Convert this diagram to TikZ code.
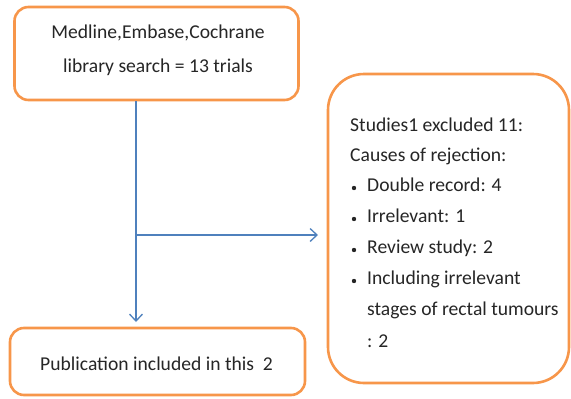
\documentclass[tikz,border=0pt]{standalone}
\usepackage{fontspec}
\setmainfont{Carlito}
\usetikzlibrary{arrows.meta}
\definecolor{boxorange}{HTML}{F7964A}
\definecolor{arrowblue}{HTML}{4F81BD}
\tikzset{
  box/.style={draw=boxorange, line width=2.6pt, rounded corners=14pt, fill=white, inner sep=0pt},
  conn/.style={draw=arrowblue, line width=1.3pt, -{Straight Barb[length=7pt,width=13pt,line width=1.3pt]}},
  txt/.style={font=\fontsize{19.6}{31}\selectfont, text=black!85, inner sep=0pt}
}
\begin{document}
\begin{tikzpicture}[x=1pt,y=-1pt]
\useasboundingbox (0,0) rectangle (571,399);
\node[box, minimum width=284pt, minimum height=93pt] (top) at (156.5,53.5) {};
\node[txt, align=center, font=\fontsize{19.6}{34}\selectfont] (toptext) at (158,50) {Medline,Embase,Cochrane\\library search = 13 trials};
\node[box, minimum width=295pt, minimum height=67pt] (bot) at (157.5,361.5) {};
\node[txt, anchor=west] (bottext) at (40,364) {Publication included in this\ \ 2};
\node[box, rounded corners=36pt, minimum width=241pt, minimum height=309pt] (right) at (448.5,228.5) {};
\node[txt, anchor=base west] (r1) at (350,131) {Studies1 excluded 11:};
\node[txt, anchor=base west] (r2) at (350,161) {Causes of rejection:};
\node[txt, anchor=base west] (r3) at (367,191) {Double record: 4};
\node[txt, anchor=base west] (r4) at (367,222) {Irrelevant: 1};
\node[txt, anchor=base west] (r5) at (367,253) {Review study: 2};
\node[txt, anchor=base west] (r6) at (367,284) {Including irrelevant};
\node[txt, anchor=base west] (r7) at (367,315) {stages of rectal tumours};
\node[txt, anchor=base west] (r8) at (367,347) {: 2};
\foreach \y in {191,222,253,284}{
  \fill[black!85] (354,\y-3) circle (2.2pt);
}
\coordinate (split) at (136,235);
\coordinate (downend) at (136,322);
\draw[conn] (top.south -| split) -- (downend);
\draw[conn] (split) -- (318,235);
\end{tikzpicture}
\end{document}
